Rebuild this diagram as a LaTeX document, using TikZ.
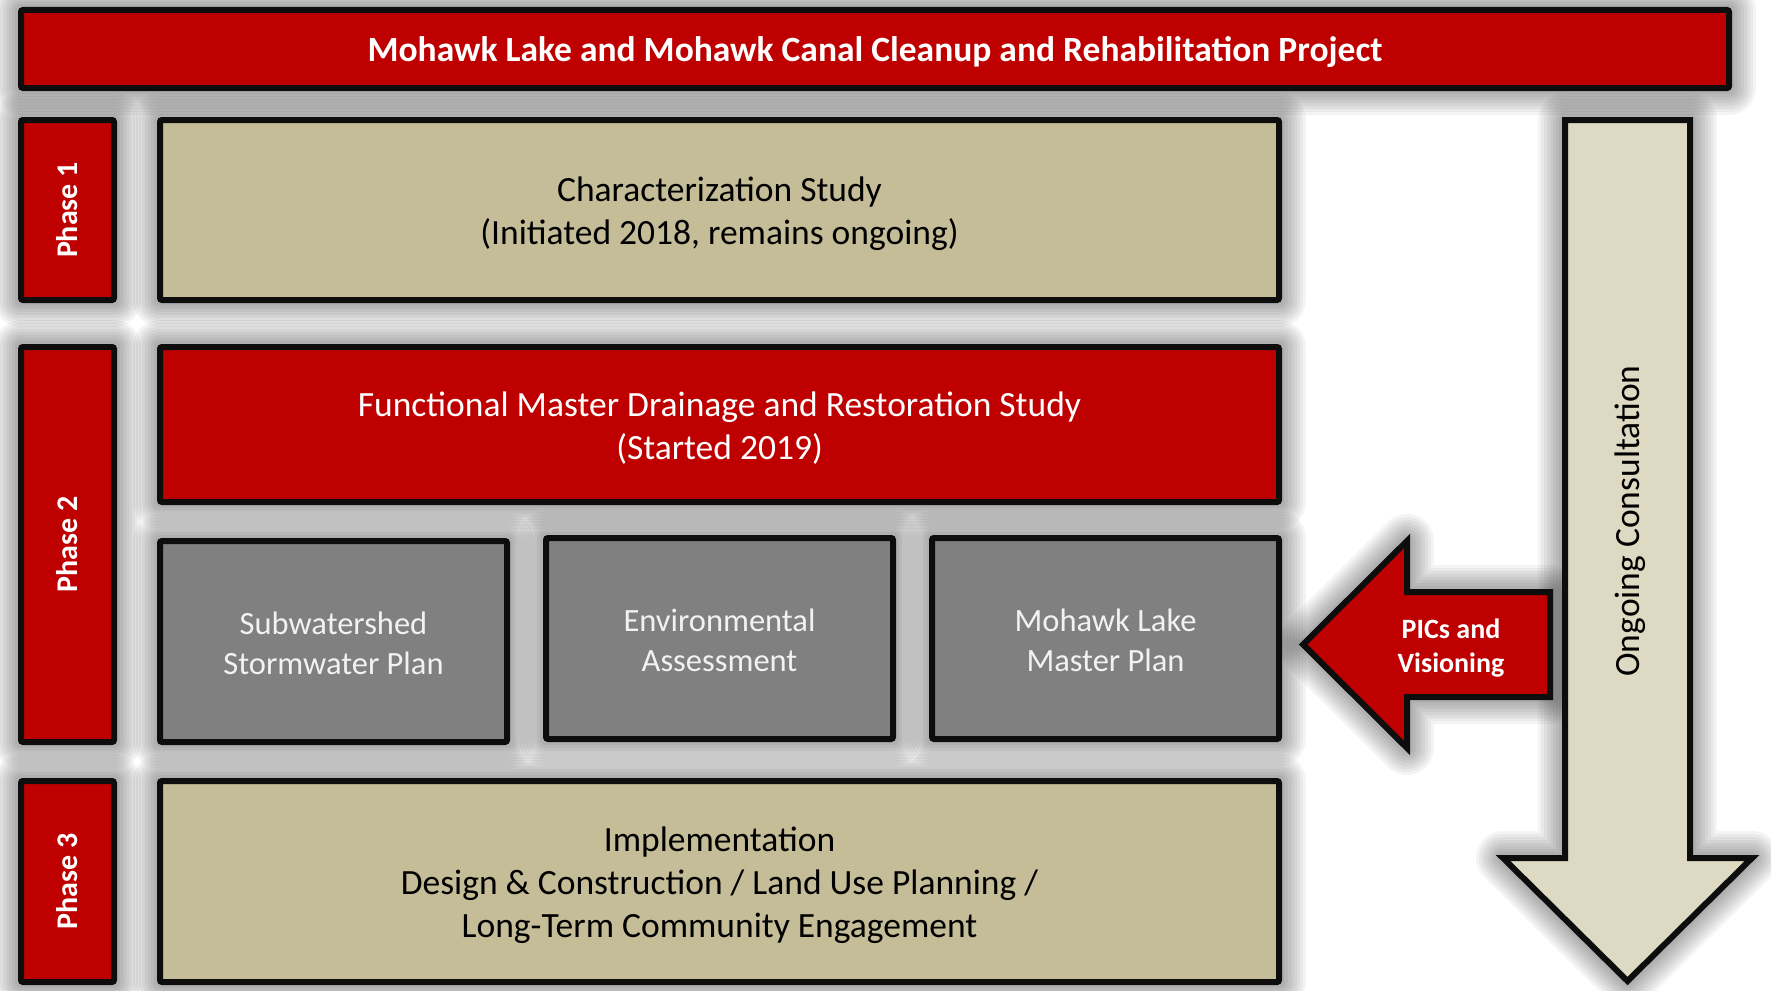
\documentclass[tikz,border=0pt]{standalone}
\usepackage{fontspec}
\setmainfont{Carlito}
\definecolor{mred}{RGB}{190,0,0}
\definecolor{mtan}{RGB}{196,189,151}
\definecolor{mlight}{RGB}{221,217,195}
\definecolor{mgray}{RGB}{128,128,128}
\definecolor{edge}{RGB}{13,13,13}
\pgfdeclarelayer{paper}
\pgfdeclarelayer{halo}
\pgfsetlayers{paper,halo,main}
\newcommand\haloit[1]{%
  \foreach \hw in {54,48,42,36,30,24,18,12}{%
    \draw[black, line width=\hw pt, draw opacity=0.042, line join=round] #1;}}
\begin{document}
\begin{tikzpicture}[x=1pt,y=-1pt,
  shapebox/.style={draw=edge, line width=6pt, rounded corners=2pt, inner sep=0pt, outer sep=0pt},
  redbox/.style={shapebox, fill=mred},
  tanbox/.style={shapebox, fill=mtan},
  graybox/.style={shapebox, fill=mgray, minimum width=347pt, minimum height=201pt},
  phasebox/.style={redbox, minimum width=93pt},
  boxtext/.style={align=center, inner sep=0pt, font=\fontsize{35.5}{43}\selectfont},
  darktext/.style={boxtext, text=black},
  lighttext/.style={boxtext, text=white},
  graytext/.style={align=center, inner sep=0pt, text=white!95!black, font=\fontsize{32.5}{40}\selectfont},
  phasetext/.style={rotate=90, text=white, font=\fontsize{30}{36}\selectfont\bfseries},
  arrowshape/.style={draw=edge, line width=6pt}]
\useasboundingbox (0,0) rectangle (1771,990);
\begin{pgfonlayer}{paper}
\fill[white] (0,0) rectangle (1771,990);
\end{pgfonlayer}
\def\vpath{(1565,120) -- (1690,120) -- (1690,858) -- (1752,858) -- (1627.5,981) -- (1503,858) -- (1565,858) -- cycle}
\def\ppath{(1550,592) -- (1550,697) -- (1407,697) -- (1407,748) -- (1303,644.5) -- (1407,541) -- (1407,592) -- cycle}

% title
\node[redbox, minimum width=1708pt, minimum height=78pt] (title) at (875,49) {};
\node[lighttext, font=\fontsize{35.5}{43}\selectfont\bfseries, yshift=-3pt] (titlet) at (title.center) {Mohawk Lake and Mohawk Canal Cleanup and Rehabilitation Project};

% phase bars
\node[phasebox, minimum height=180pt] (p1) at (67.5,210) {};
\node[phasebox, minimum height=395pt] (p2) at (67.5,544.5) {};
\node[phasebox, minimum height=201pt] (p3) at (67.5,881.5) {};
\node[phasetext] (p1t) at (p1.center) {Phase 1};
\node[phasetext] (p2t) at (p2.center) {Phase 2};
\node[phasetext] (p3t) at (p3.center) {Phase 3};

% main boxes
\node[tanbox, minimum width=1119pt, minimum height=180pt] (char) at (719.5,210) {};
\node[darktext, yshift=-4pt] (chart) at (char.center) {Characterization Study\\(Initiated 2018, remains ongoing)};
\node[redbox, minimum width=1119pt, minimum height=155pt] (func) at (719.5,424.5) {};
\node[lighttext, yshift=-4pt] (funct) at (func.center) {Functional Master Drainage and Restoration Study\\(Started 2019)};
\node[graybox] (subw) at (333.5,641.5) {};
\node[graytext, yshift=-2pt] (subwt) at (subw.center) {Subwatershed\\Stormwater Plan};
\node[graybox] (env) at (719.5,638.5) {};
\node[graytext, yshift=-2pt] (envt) at (env.center) {Environmental\\Assessment};
\node[graybox] (mlmp) at (1105.5,638.5) {};
\node[graytext, yshift=-2pt] (mlmpt) at (mlmp.center) {Mohawk Lake\\Master Plan};
\node[tanbox, minimum width=1119pt, minimum height=201pt] (impl) at (719.5,881.5) {};
\node[darktext, yshift=-4pt] (implt) at (impl.center) {Implementation\\Design \& Construction / Land Use Planning /\\Long-Term Community Engagement};

% arrows
\draw[arrowshape, fill=mlight] \vpath;
\draw[arrowshape, fill=mred] \ppath;
\node[rotate=90, font=\fontsize{35.5}{42}\selectfont] (ongoing) at (1630,521) {Ongoing Consultation};
\node[text=white, align=center, font=\fontsize{28}{34}\selectfont\bfseries] (pics) at (1451,648) {PICs and\\Visioning};

% glow
\begin{pgfonlayer}{halo}
\foreach \n in {title,p1,char,p2,func,subw,env,mlmp,p3,impl}{%
  \haloit{(\n.north west) rectangle (\n.south east)}}
\haloit{\vpath}
\haloit{\ppath}
\end{pgfonlayer}
\end{tikzpicture}
\end{document}
